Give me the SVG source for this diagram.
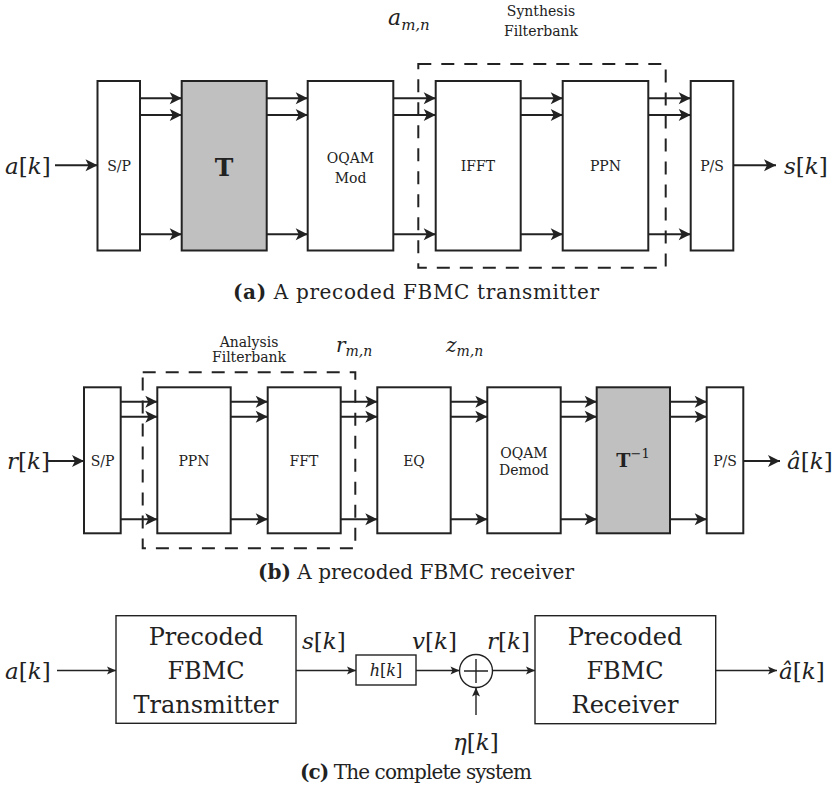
<svg xmlns="http://www.w3.org/2000/svg" width="832" height="790" viewBox="0 0 832 790">
<defs>
<style>
text{font-family:'DejaVu Serif',serif;fill:#222}
.i{font-style:italic}
.blk{fill:#fff;stroke:#222;stroke-width:2}
.gray{fill:#c0c0c0;stroke:#222;stroke-width:2}
.dash{fill:none;stroke:#222;stroke-width:2;stroke-dasharray:13 10}
.w{fill:none;stroke:#222;stroke-width:2;marker-end:url(#big)}
.t{fill:none;stroke:#222;stroke-width:1.4;marker-end:url(#small)}
.sb{fill:#fff;stroke:#222;stroke-width:1.4}
.lab{font-size:14px;text-anchor:middle}
.m{font-size:23px}
.cap{font-size:20px;text-anchor:middle}
.big{font-size:24px;text-anchor:middle}
</style>
<marker id="big" viewBox="-13 -7 14 14" refX="0" refY="0" markerWidth="14" markerHeight="14" markerUnits="userSpaceOnUse" orient="auto">
<path d="M0,0 L-12,-6 L-9,0 L-12,6 Z" fill="#222"/>
</marker>
<marker id="small" viewBox="-10 -5 11 10" refX="0" refY="0" markerWidth="11" markerHeight="10" markerUnits="userSpaceOnUse" orient="auto">
<path d="M0,0 L-9,-4 L-7,0 L-9,4 Z" fill="#222"/>
</marker>
</defs>

<!-- (a) transmitter -->
<g id="a-labels">
<text class="m" x="5" y="174"><tspan class="i">a</tspan>[<tspan class="i">k</tspan>]</text>
<text class="m" x="784" y="174"><tspan class="i">s</tspan>[<tspan class="i">k</tspan>]</text>
<text x="388" y="25" font-size="22" class="i">a<tspan font-size="15" dy="5">m,n</tspan></text>
<text class="lab" x="541" y="16" font-size="12">Synthesis</text>
<text class="lab" x="541" y="36" font-size="12">Filterbank</text>
</g>
<g id="a-sp"><rect class="blk" x="97.5" y="81" width="42.5" height="169.5"/><text class="lab" x="119" y="171">S/P</text></g>
<g id="a-T"><rect class="gray" x="181.7" y="81" width="85" height="169.5"/><text x="224" y="176" font-size="25" font-weight="bold" text-anchor="middle">T</text></g>
<g id="a-oqam"><rect class="blk" x="307.7" y="81" width="85.6" height="169.5"/><text class="lab" x="350.5" y="163">OQAM</text><text class="lab" x="350.5" y="183">Mod</text></g>
<g id="a-ifft"><rect class="blk" x="435.7" y="81" width="85" height="169.5"/><text class="lab" x="478" y="171">IFFT</text></g>
<g id="a-ppn"><rect class="blk" x="562.7" y="81" width="85.6" height="169.5"/><text class="lab" x="605.5" y="171">PPN</text></g>
<g id="a-ps"><rect class="blk" x="690.7" y="81" width="42.6" height="169.5"/><text class="lab" x="712" y="171">P/S</text></g>
<g id="a-synth"><rect class="dash" x="418.3" y="64" width="247.4" height="203.7"/></g>
<g id="a-connectors">
<path class="w" d="M55,165.3H97.5"/>
<path class="w" d="M140,98.3H181.7"/><path class="w" d="M140,115H181.7"/><path class="w" d="M140,234.3H181.7"/>
<path class="w" d="M266.7,98.3H307.7"/><path class="w" d="M266.7,115H307.7"/><path class="w" d="M266.7,234.3H307.7"/>
<path class="w" d="M393.3,98.3H435.7"/><path class="w" d="M393.3,115H435.7"/><path class="w" d="M393.3,234.3H435.7"/>
<path class="w" d="M520.7,98.3H562.7"/><path class="w" d="M520.7,115H562.7"/><path class="w" d="M520.7,234.3H562.7"/>
<path class="w" d="M648.3,98.3H690.7"/><path class="w" d="M648.3,115H690.7"/><path class="w" d="M648.3,234.3H690.7"/>
<path class="w" d="M733.3,165.3H776"/>
</g>
<text class="cap" x="416" y="299" textLength="366"><tspan font-weight="bold">(a)</tspan> A precoded FBMC transmitter</text>

<!-- (b) receiver -->
<g id="b-labels">
<text class="m" x="7" y="469" font-size="20"><tspan class="i">r</tspan>[<tspan class="i">k</tspan>]</text>
<text class="m" x="787" y="469" font-size="18"><tspan class="i">â</tspan>[<tspan class="i">k</tspan>]</text>
<text x="336" y="352" font-size="20" class="i">r<tspan font-size="14" dy="4">m,n</tspan></text>
<text x="446" y="352" font-size="20" class="i">z<tspan font-size="14" dy="4">m,n</tspan></text>
<text class="lab" x="249" y="347" font-size="12">Analysis</text>
<text class="lab" x="249" y="362" font-size="12">Filterbank</text>
</g>
<g id="b-sp"><rect class="blk" x="84" y="387.3" width="36.7" height="146"/><text class="lab" x="102.5" y="466" font-size="12">S/P</text></g>
<g id="b-ppn"><rect class="blk" x="157.3" y="387.3" width="73.4" height="146"/><text class="lab" x="194" y="466" font-size="12">PPN</text></g>
<g id="b-fft"><rect class="blk" x="267.7" y="387.3" width="73" height="146"/><text class="lab" x="304" y="466" font-size="12">FFT</text></g>
<g id="b-eq"><rect class="blk" x="377.3" y="387.3" width="73.4" height="146"/><text class="lab" x="414" y="466" font-size="12">EQ</text></g>
<g id="b-oqam"><rect class="blk" x="487.3" y="387.3" width="73.4" height="146"/><text class="lab" x="524" y="458" font-size="12">OQAM</text><text class="lab" x="524" y="475" font-size="12">Demod</text></g>
<g id="b-Tinv"><rect class="gray" x="596.7" y="387.3" width="73.3" height="146"/><text x="633" y="467" font-size="19" text-anchor="middle"><tspan font-weight="bold">T</tspan><tspan font-size="13" dy="-9">−1</tspan></text></g>
<g id="b-ps"><rect class="blk" x="706.7" y="387.3" width="36.6" height="146"/><text class="lab" x="725" y="466" font-size="12">P/S</text></g>
<g id="b-anal"><rect class="dash" x="142.7" y="372.3" width="212.6" height="176"/></g>
<g id="b-connectors">
<path class="w" d="M48,461H84"/>
<path class="w" d="M120.7,401.7H157.3"/><path class="w" d="M120.7,416.7H157.3"/><path class="w" d="M120.7,519.3H157.3"/>
<path class="w" d="M230.7,401.7H267.7"/><path class="w" d="M230.7,416.7H267.7"/><path class="w" d="M230.7,519.3H267.7"/>
<path class="w" d="M340.7,401.7H377.3"/><path class="w" d="M340.7,416.7H377.3"/><path class="w" d="M340.7,519.3H377.3"/>
<path class="w" d="M450.7,401.7H487.3"/><path class="w" d="M450.7,416.7H487.3"/><path class="w" d="M450.7,519.3H487.3"/>
<path class="w" d="M560.7,401.7H596.7"/><path class="w" d="M560.7,416.7H596.7"/><path class="w" d="M560.7,519.3H596.7"/>
<path class="w" d="M670,401.7H706.7"/><path class="w" d="M670,416.7H706.7"/><path class="w" d="M670,519.3H706.7"/>
<path class="w" d="M743.3,461H780"/>
</g>
<text class="cap" x="416" y="579" textLength="316"><tspan font-weight="bold">(b)</tspan> A precoded FBMC receiver</text>

<!-- (c) complete system -->
<g id="c-labels">
<text class="m" x="5" y="679" font-size="24"><tspan class="i">a</tspan>[<tspan class="i">k</tspan>]</text>
<text class="m" x="302" y="649" font-size="24"><tspan class="i">s</tspan>[<tspan class="i">k</tspan>]</text>
<text class="m" x="412" y="649" font-size="24"><tspan class="i">v</tspan>[<tspan class="i">k</tspan>]</text>
<text class="m" x="487" y="649" font-size="24"><tspan class="i">r</tspan>[<tspan class="i">k</tspan>]</text>
<text class="m" x="453" y="750" font-size="24"><tspan class="i">η</tspan>[<tspan class="i">k</tspan>]</text>
<text class="m" x="779" y="679" font-size="24"><tspan class="i">â</tspan>[<tspan class="i">k</tspan>]</text>
</g>
<g id="c-tx"><rect class="sb" x="116" y="615.7" width="180" height="107.6"/><text class="big" x="206" y="645">Precoded</text><text class="big" x="206" y="679">FBMC</text><text class="big" x="206" y="713">Transmitter</text></g>
<g id="c-h"><rect class="sb" x="356" y="655" width="60" height="30"/><text x="386" y="676" font-size="16" text-anchor="middle"><tspan class="i">h</tspan>[<tspan class="i">k</tspan>]</text></g>
<g id="c-sum"><circle cx="476" cy="671" r="16.5" fill="#fff" stroke="#222" stroke-width="1.4"/><path d="M476,659V683M464,671H488" stroke="#222" stroke-width="1.4"/></g>
<g id="c-rx"><rect class="sb" x="535" y="615.7" width="180.7" height="108"/><text class="big" x="625" y="645">Precoded</text><text class="big" x="625" y="679">FBMC</text><text class="big" x="625" y="713">Receiver</text></g>
<g id="c-connectors">
<path class="t" d="M57,670.5H116"/>
<path class="t" d="M296,670.5H356"/>
<path class="t" d="M416,670.5H459.5"/>
<path class="t" d="M492.5,670.5H535"/>
<path class="t" d="M476,715V687.5"/>
<path class="t" d="M715.7,670.5H777"/>
</g>
<text class="cap" x="416" y="779" textLength="232"><tspan font-weight="bold">(c)</tspan> The complete system</text>
</svg>
